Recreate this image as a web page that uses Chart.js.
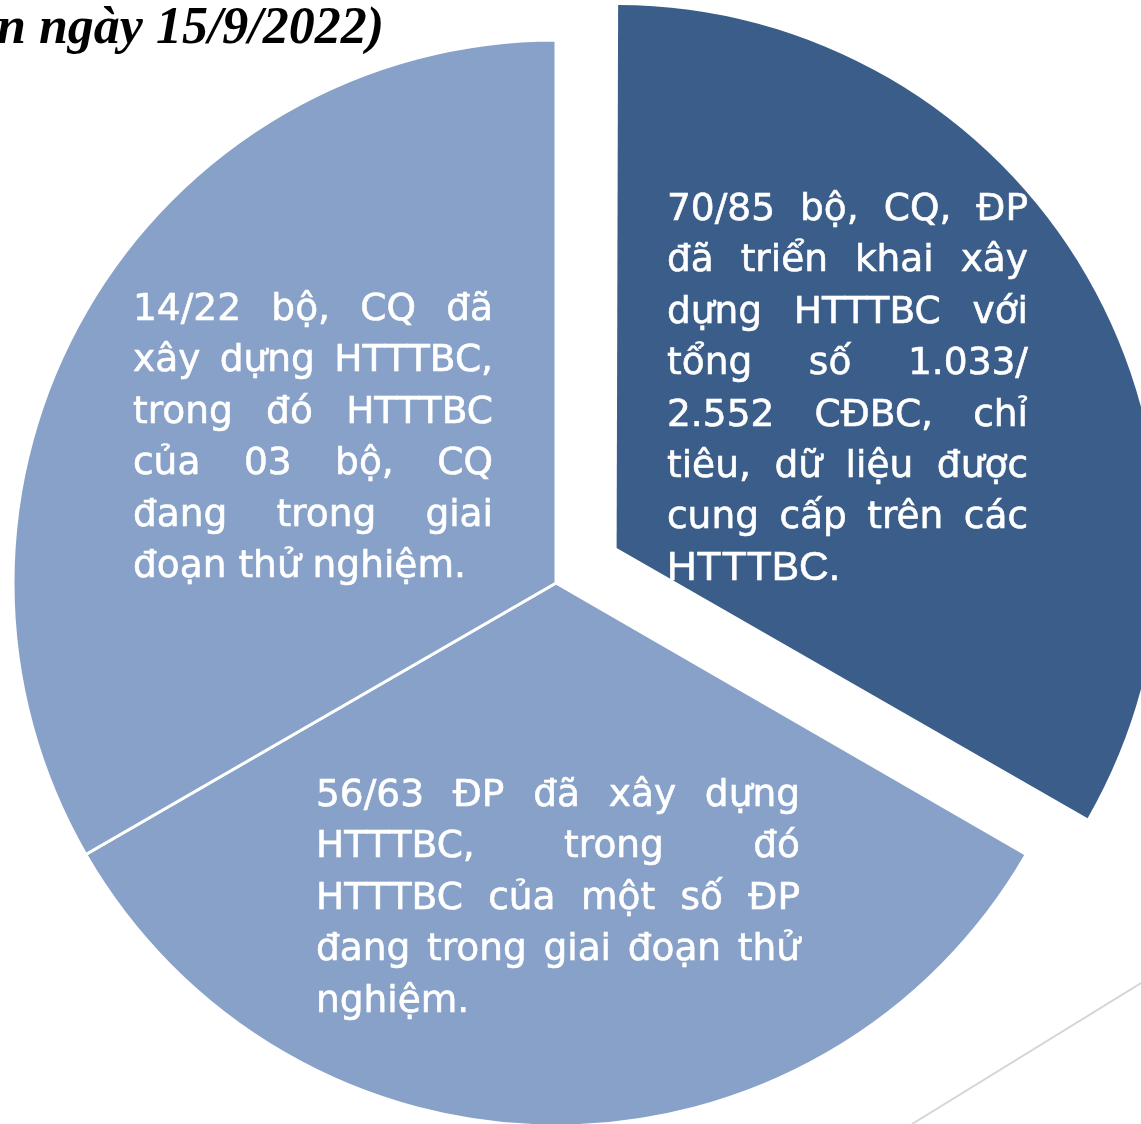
<!DOCTYPE html>
<html><head><meta charset="utf-8">
<script src="https://cdn.jsdelivr.net/npm/chart.js@4.4.1/dist/chart.umd.min.js"></script>
<style>html,body{margin:0;padding:0;background:#fff;overflow:hidden}#wrap{width:1141px;height:1124px;position:relative}canvas{display:block}</style>
</head><body><div id="wrap"><canvas id="c" width="1141" height="1124"></canvas></div>
<script>
const titleText = 'n ngày 15/9/2022)';
const sliceNames = ['Bộ, CQ, ĐP đã triển khai', 'ĐP đã xây dựng', 'Bộ, CQ đã xây dựng'];
const sliceShares = [1, 1, 1];
const sliceColors = ['#3a5d8a', '#87a1c8', '#87a1c8'];
const sliceLabelLines = [
  ['70/85 bộ, CQ, ĐP', 'đã triển khai xây', 'dựng HTTTBC với', 'tổng số 1.033/', '2.552 CĐBC, chỉ', 'tiêu, dữ liệu được', 'cung cấp trên các', 'HTTTBC.'],
  ['56/63 ĐP đã xây dựng', 'HTTTBC, trong đó', 'HTTTBC của một số ĐP', 'đang trong giai đoạn thử', 'nghiệm.'],
  ['14/22 bộ, CQ đã', 'xây dựng HTTTBC,', 'trong đó HTTTBC', 'của 03 bộ, CQ', 'đang trong giai', 'đoạn thử nghiệm.']
];

const bodyFont = '37.5px "DejaVu Sans"';
const lineGap = 51.4;
const labelBoxes = [
  {dx: 111, dy: -363, w: 361, lastFont: '41px "Liberation Sans"'},
  {dx: -240, dy: 223, w: 484},
  {dx: -423, dy: -263, w: 360}
];

// keep the exploded slice at the same radius as the others
const radiusFixPlugin = {
  id: 'radiusFix',
  beforeDatasetsDraw(chart) {
    chart.getDatasetMeta(0).data.forEach(arc => {
      const off = (arc.options.offset || 0) / 4;
      if (off) {
        const fix = 1 - Math.sin(Math.min(Math.PI, arc.circumference || 0));
        arc._savedOuter = arc.outerRadius;
        arc.outerRadius = arc.outerRadius - off * fix;
      }
    });
  },
  afterDatasetsDraw(chart) {
    chart.getDatasetMeta(0).data.forEach(arc => {
      if (arc._savedOuter !== undefined) { arc.outerRadius = arc._savedOuter; delete arc._savedOuter; }
    });
  }
};

const decorPlugin = {
  id: 'decor',
  afterDraw(chart) {
    const ctx = chart.ctx;
    const W = chart.width, H = chart.height;
    ctx.save();
    ctx.strokeStyle = '#d6d6d6';
    ctx.lineWidth = 2;
    ctx.beginPath();
    ctx.moveTo(W - 229, H);
    ctx.lineTo(W, H - 141);
    ctx.stroke();
    ctx.fillStyle = '#000';
    ctx.font = 'italic bold 52px "Liberation Serif"';
    ctx.textBaseline = 'alphabetic';
    ctx.textAlign = 'left';
    ctx.fillText(titleText, -3, 43);
    ctx.restore();
  }
};

const labelPlugin = {
  id: 'sliceLabels',
  afterDatasetsDraw(chart) {
    const ctx = chart.ctx;
    const arcs = chart.getDatasetMeta(0).data;
    ctx.save();
    ctx.fillStyle = '#ffffff';
    ctx.strokeStyle = '#ffffff';
    ctx.lineWidth = 0.6;
    ctx.textBaseline = 'alphabetic';
    ctx.textAlign = 'left';
    const put = (t, x, y) => { ctx.fillText(t, x, y); ctx.strokeText(t, x, y); };
    arcs.forEach((arc, i) => {
      const box = labelBoxes[i];
      const lines = sliceLabelLines[i];
      const x0 = arc.x + box.dx;
      let y = arc.y + box.dy;
      lines.forEach((line, j) => {
        const last = j === lines.length - 1;
        ctx.font = (last && box.lastFont) ? box.lastFont : bodyFont;
        const words = line.split(' ');
        if (last || words.length < 2) {
          put(line, x0, y);
        } else {
          const widths = words.map(wd => ctx.measureText(wd).width);
          const sum = widths.reduce((a, b) => a + b, 0);
          const gap = (box.w - sum) / (words.length - 1);
          let x = x0;
          words.forEach((wd, k) => { put(wd, x, y); x += widths[k] + gap; });
        }
        y += lineGap;
      });
    });
    ctx.restore();
  }
};

new Chart(document.getElementById('c'), {
  type: 'pie',
  data: {
    labels: sliceNames,
    datasets: [{
      data: sliceShares,
      backgroundColor: sliceColors,
      borderColor: '#ffffff',
      borderWidth: [0, 3, 3],
      offset: [280, 0, 0],
      radius: 543
    }]
  },
  options: {
    responsive: false,
    animation: false,
    layout: {padding: {left: 0, right: 29, top: 42, bottom: 0}},
    plugins: {legend: {display: false}, tooltip: {enabled: false}, title: {display: false}}
  },
  plugins: [radiusFixPlugin, labelPlugin, decorPlugin]
});
</script>
</body></html>
